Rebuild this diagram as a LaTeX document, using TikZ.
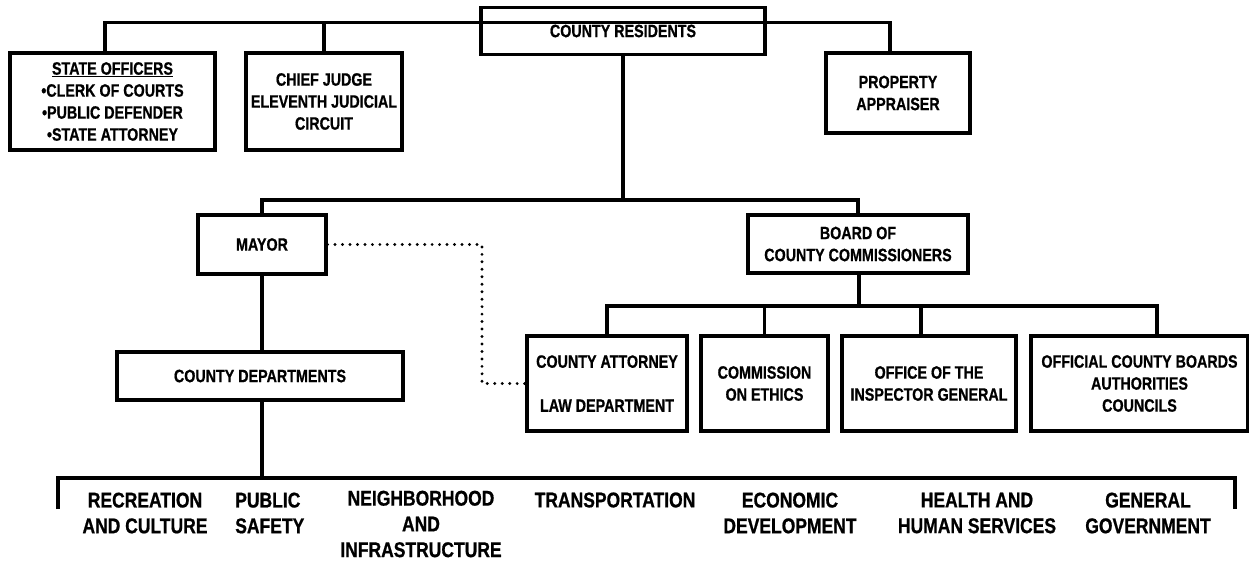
\documentclass[tikz,border=0pt]{standalone}
\usepackage{fontspec}
\setmainfont{Liberation Sans}[FakeStretch=0.8, BoldFeatures={FakeBold=0.8}]
\newfontfamily\lblfont{Liberation Sans}[FakeStretch=0.82, BoldFeatures={FakeBold=0.8}]
\begin{document}
\begin{tikzpicture}[x=0.75pt,y=-0.75pt,
  sz/.style 2 args={minimum width=#1*0.75pt, minimum height=#2*0.75pt},
  box/.style={draw, line width=2.4pt, inner sep=0pt, align=center,
    font=\bfseries\fontsize{13.4}{16.5}\selectfont},
  lbl/.style={inner sep=0pt, align=center,
    font=\lblfont\bfseries\fontsize{16}{19.3}\selectfont},
  conn/.style={line width=2.5pt},
  dotline/.style={line width=2.4pt, line cap=round, dash pattern=on 0pt off 5.6pt}]
\useasboundingbox (0,0) rectangle (1249,562);

% boxes
\node[box, sz={284}{47}] (res) at (623,31) {COUNTY RESIDENTS};
\node[box, sz={205}{97}] (so) at (112.5,101.5) {\underline{STATE OFFICERS}\\ •CLERK OF COURTS\\ •PUBLIC DEFENDER\\ •STATE ATTORNEY};
\node[box, sz={156}{97}] (cj) at (324,101.5) {CHIEF JUDGE\\ ELEVENTH JUDICIAL\\ CIRCUIT};
\node[box, sz={144}{80}] (pa) at (898,93) {PROPERTY\\ APPRAISER};
\node[box, sz={128}{59}] (mayor) at (262,244.5) {MAYOR};
\node[box, sz={220}{58}] (board) at (858,244) {BOARD OF\\ COUNTY COMMISSIONERS};
\node[box, sz={286}{48}] (cd) at (260,376) {COUNTY DEPARTMENTS};
\node[box, sz={160}{95}] (ca) at (607,383.5) {COUNTY ATTORNEY\\[16.5pt] LAW DEPARTMENT};
\node[box, sz={127}{95}] (eth) at (764.5,383.5) {COMMISSION\\ ON ETHICS};
\node[box, sz={174}{95}] (ig) at (929,383.5) {OFFICE OF THE\\ INSPECTOR GENERAL};
\node[box, sz={217}{95}] (oc) at (1139.5,383.5) {OFFICIAL COUNTY BOARDS\\ AUTHORITIES\\ COUNCILS};

% bottom labels
\node[lbl] (rec) at (145,513) {RECREATION\\ AND CULTURE};
\node[lbl, anchor=west, align=left] (ps) at (235,513) {PUBLIC\\ SAFETY};
\node[lbl] (nb) at (421,524) {NEIGHBORHOOD\\ AND\\ INFRASTRUCTURE};
\node[lbl] (tr) at (615,500) {TRANSPORTATION};
\node[lbl] (ed) at (790,513) {ECONOMIC\\ DEVELOPMENT};
\node[lbl] (hh) at (977,513) {HEALTH AND\\ HUMAN SERVICES};
\node[lbl] (gg) at (1148,513) {GENERAL\\ GOVERNMENT};

% helper coordinates
\coordinate (topbar) at (623,22.5);
\coordinate (midbar) at (623,200);
\coordinate (cbar) at (859,306);
\coordinate (bbar) at (262,478);
\coordinate (bl) at (58,509);
\coordinate (br) at (1235,509);
\coordinate (dk) at (482,300);

% top connectors
\draw[conn] ([xshift=-5.6pt]so.north) |- (topbar) -| ([xshift=-6pt]pa.north);
\draw[conn] (cj.north) -- (cj.north |- topbar);
\draw[conn] (res.south) -- (midbar);
\draw[conn] (mayor.north) |- (midbar) -| (board.north);

% board children
\draw[conn] (board.south -| cbar) -- (cbar);
\draw[conn] (ca.north) |- (cbar) -| ([xshift=13.1pt]oc.north);
\draw[conn] (eth.north) -- (eth.north |- cbar);
\draw[conn] ([xshift=-6pt]ig.north) -- ([xshift=-6pt]ig.north |- cbar);

% mayor to departments
\draw[conn] (mayor.south) -- (mayor.south |- cd.north);
\draw[conn] (cd.south -| bbar) -- (bbar);
\draw[conn] (bl) |- (bbar) -| (br);

% dotted
\draw[dotline] (mayor.east) -| (dk) |- (ca.west);
\end{tikzpicture}
\end{document}
